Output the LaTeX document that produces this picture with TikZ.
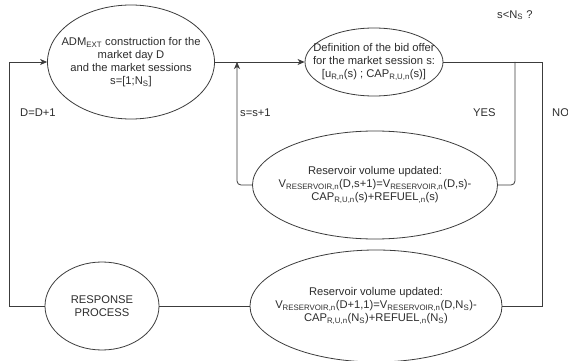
\documentclass[tikz,border=0pt]{standalone}
\usepackage{fontspec}
\setmainfont{Liberation Sans}
\usetikzlibrary{shapes.geometric,arrows.meta}
\definecolor{ink}{RGB}{45,45,45}
\definecolor{wire}{RGB}{60,60,60}
\begin{document}
\begin{tikzpicture}[x=1pt,y=-1pt,
  every node/.style={text=ink},
  oval/.style={draw=wire, line width=0.8pt, ellipse, inner sep=0pt},
  txt/.style={align=center, font=\fontsize{11.2}{13}\selectfont, inner sep=0pt},
  lbl/.style={font=\fontsize{11.2}{13}\selectfont, inner sep=0pt, anchor=west},
  wire/.style={draw=wire, line width=0.8pt},
  arr/.style={wire, -{Stealth[length=7pt,width=6pt,inset=2pt]}}]
\useasboundingbox (0,0) rectangle (568,361);
\fill[white] (0,0) rectangle (568,361);

% process ellipses
\node[oval, minimum width=167pt, minimum height=114pt] (adm) at (131,62) {};
\node[txt] at (adm) {ADM\textsubscript{EXT} construction for the\\ market day D\\ and the market sessions\\ s=[1;N\textsubscript{S}]};

\node[oval, minimum width=138pt, minimum height=68pt] (bid) at (374,62) {};
\node[txt] at (bid) {Definition of the bid offer\\ for the market session s:\\ \relax[u\textsubscript{R,n}(s) ; CAP\textsubscript{R,U,n}(s)]};

\node[oval, minimum width=245pt, minimum height=108pt] (ress) at (375,185) {};
\node[txt] at (ress) {Reservoir volume updated:\\ V\textsubscript{RESERVOIR,n}(D,s+1)=V\textsubscript{RESERVOIR,n}(D,s)-\\ CAP\textsubscript{R,U,n}(s)+REFUEL\textsubscript{,n}(s)};

\node[oval, minimum width=252pt, minimum height=112pt] (resd) at (376,306) {};
\node[txt] at (resd) {Reservoir volume updated:\\ V\textsubscript{RESERVOIR,n}(D+1,1)=V\textsubscript{RESERVOIR,n}(D,N\textsubscript{S})-\\ CAP\textsubscript{R,U,n}(N\textsubscript{S})+REFUEL\textsubscript{,n}(N\textsubscript{S})};

\node[oval, minimum width=114pt, minimum height=88pt] (resp) at (102,306) {};
\node[txt] at (resp) {RESPONSE\\ PROCESS};

% junctions and corners of the loops
\coordinate (jloop) at (237,62);
\coordinate (jyes) at (515,62);
\coordinate (jno) at (542,62);
\coordinate (leftx) at (9,0);

% connectors
\draw[arr] (adm.east) -- (bid.west);
\draw[wire] (bid.east) -- (jno) -- (jno |- resd.east) -- (resd.east);
\draw[wire, rounded corners=4pt] (jyes) -- (jyes |- ress.east) -- (ress.east);
\draw[arr, rounded corners=4pt] (ress.west) -- (jloop |- ress.west) -- (jloop);
\draw[wire] (resd.west) -- (resp.east);
\draw[arr] (resp.west) -- (resp.west -| leftx) -- (adm.west -| leftx) -- (adm.west);

% labels
\node[lbl] (lday) at (20,113) {D=D+1};
\node[lbl] (lses) at (240,113) {s=s+1};
\node[lbl] (lyes) at (473,113) {YES};
\node[lbl] (lno) at (552,113) {NO};
\node[lbl] (lq) at (497,15) {s<N\textsubscript{S} ?};
\end{tikzpicture}
\end{document}
